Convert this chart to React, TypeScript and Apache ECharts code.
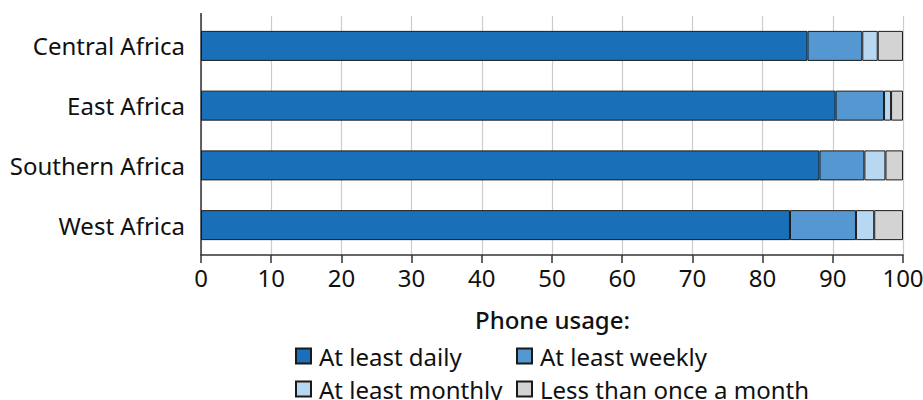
import React, { useEffect, useRef } from "react";
import * as echarts from "echarts";

const regions = ["Central Africa", "East Africa", "Southern Africa", "West Africa"];
const seriesNames = ["At least daily", "At least weekly", "At least monthly", "Less than once a month"];
const daily = [86.4, 90.4, 88.1, 83.9];
const weekly = [7.8, 6.9, 6.4, 9.4];
const monthly = [2.2, 1.0, 3.0, 2.6];
const lessThanMonthly = [3.6, 1.7, 2.5, 4.1];
const xTicks = [0, 10, 20, 30, 40, 50, 60, 70, 80, 90, 100];

const colors = ["#1a70b8", "#5597d1", "#b8d8f2", "#d3d3d3"];
const FONT = "'Noto Sans', 'Open Sans', sans-serif";

export default function App() {
  const ref = useRef<HTMLDivElement>(null);
  useEffect(() => {
    document.body.style.margin = "0";
    document.body.style.overflow = "hidden";
    document.documentElement.style.overflow = "hidden";
    if (!ref.current) return;
    const chart = echarts.init(ref.current, undefined, { renderer: "svg" });
    const values = [daily, weekly, monthly, lessThanMonthly];
    const legendPos = [
      { left: 295, top: 344 },
      { left: 516, top: 344 },
      { left: 295, top: 377 },
      { left: 516, top: 377 },
    ];
    chart.setOption({
      animation: false,
      textStyle: { fontFamily: FONT },
      title: {
        text: "Phone usage:",
        left: 475,
        top: 307,
        textStyle: { fontFamily: FONT, fontSize: 24, fontWeight: 500, color: "#111" },
        padding: 0,
      },
      legend: seriesNames.map((n, i) => ({
        data: [n],
        left: legendPos[i].left,
        top: legendPos[i].top,
        padding: 0,
        itemWidth: 15,
        itemHeight: 15,
        itemGap: 8,
        icon: "rect",
        selectedMode: false,
        textStyle: { fontFamily: FONT, fontSize: 24, color: "#111", padding: [0, 0, 0, 3] },
      })),
      grid: {
        left: 201,
        right: 20,
        top: 16,
        bottom: 145,
        containLabel: false,
        outerBoundsMode: "none",
      },
      xAxis: {
        type: "value",
        min: xTicks[0],
        max: xTicks[xTicks.length - 1],
        interval: 10,
        axisLine: { show: true, lineStyle: { color: "#333", width: 1.5 } },
        axisTick: { show: true, length: 8, lineStyle: { color: "#333", width: 1.5 } },
        axisLabel: { fontFamily: FONT, fontSize: 24, color: "#111", margin: 10 },
        splitLine: { show: true, lineStyle: { color: "#ccc", width: 1.2 } },
      },
      yAxis: {
        type: "category",
        data: regions,
        inverse: true,
        axisLine: { show: true, lineStyle: { color: "#333", width: 1.5 } },
        axisTick: { show: false },
        axisLabel: { fontFamily: FONT, fontSize: 24, color: "#111", margin: 16 },
      },
      graphic: [
        {
          type: "line",
          shape: { x1: 201, y1: 13, x2: 201, y2: 16 },
          style: { stroke: "#333", lineWidth: 1.5 },
        },
      ],
      series: seriesNames.map((n, i) => ({
        name: n,
        type: "bar",
        stack: "total",
        data: values[i],
        barWidth: 30,
        itemStyle: { color: colors[i], borderColor: "#1a1a1a", borderWidth: 1 },
      })),
    });
    return () => chart.dispose();
  }, []);
  return <div ref={ref} style={{ width: 923, height: 400 }} />;
}
